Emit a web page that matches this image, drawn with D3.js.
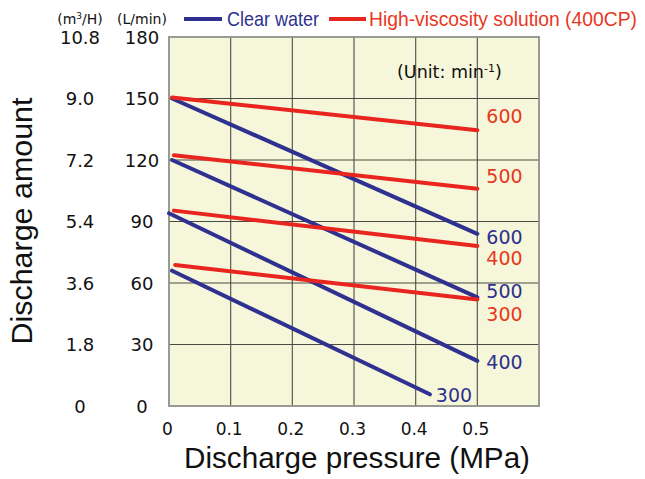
<!DOCTYPE html>
<html>
<head>
<meta charset="utf-8">
<script src="https://cdn.jsdelivr.net/npm/d3@7"></script>
<style>
  html, body { margin: 0; padding: 0; background: #ffffff; }
  svg { display: block; }
</style>
</head>
<body>
<svg id="chart" width="645" height="479"></svg>
<script>
// ---- data ----
const pressureTicks = [0, 0.1, 0.2, 0.3, 0.4, 0.5];
const pressureTickLabels = ["0", "0.1", "0.2", "0.3", "0.4", "0.5"];
const flowTicksLmin = [0, 30, 60, 90, 120, 150, 180];
const flowTickLabelsLmin = ["0", "30", "60", "90", "120", "150", "180"];
const flowTickLabelsM3h = ["0", "1.8", "3.6", "5.4", "7.2", "9.0", "10.8"];

// Clear water (blue) lines: rotation speed, start/end pressure & discharge
const waterSpeeds = ["600", "500", "400", "300"];
const waterStartP = [0.005, 0.005, 0.0, 0.005];
const waterStartQ = [150, 120, 94, 66];
const waterEndP   = [0.5, 0.5, 0.5, 0.423];
const waterEndQ   = [84, 53, 22, 5.7];

// High-viscosity solution (red) lines
const viscSpeeds = ["600", "500", "400", "300"];
const viscStartP = [0.005, 0.008, 0.008, 0.01];
const viscStartQ = [150.5, 122.3, 95.3, 68.8];
const viscEndP   = [0.5, 0.5, 0.5, 0.5];
const viscEndQ   = [134.5, 106, 78, 52];

// ---- layout / style ----
const BLUE = "#2e318f";
const RED = "#e8261f";
const RED_TEXT = "#e8381e";
const BG = "#f6f7da";
const svg = d3.select("#chart");

const x = d3.scaleLinear().domain([0, 0.6]).range([169, 539]);
const y = d3.scaleLinear().domain([0, 180]).range([406, 37]);

// plot background
svg.append("rect")
  .attr("x", x(0)).attr("y", y(180))
  .attr("width", x(0.6) - x(0)).attr("height", y(0) - y(180))
  .attr("fill", BG);

// grid
const grid = svg.append("g");
grid.selectAll("line.v").data(pressureTicks.slice(1)).join("line")
  .attr("x1", d => x(d)).attr("x2", d => x(d))
  .attr("y1", y(180)).attr("y2", y(0))
  .attr("stroke", "#5a5a55").attr("stroke-width", 1.2);
grid.selectAll("line.h").data(flowTicksLmin.slice(1, -1)).join("line")
  .attr("x1", x(0)).attr("x2", x(0.6))
  .attr("y1", d => y(d)).attr("y2", d => y(d))
  .attr("stroke", "#4a4a45").attr("stroke-width", 1.2);

// border
svg.append("rect")
  .attr("x", x(0)).attr("y", y(180))
  .attr("width", x(0.6) - x(0)).attr("height", y(0) - y(180))
  .attr("fill", "none").attr("stroke", "#8f8f8a").attr("stroke-width", 1.8);

// axes (text only, via d3 axis)
const xAxis = d3.axisBottom(x).tickValues(pressureTicks)
  .tickFormat((d, i) => pressureTickLabels[i]).tickSize(0).tickPadding(0);
const gx = svg.append("g").attr("transform", `translate(0, ${y(0) + 29})`).call(xAxis);
gx.select(".domain").remove();
gx.selectAll("text").attr("font-family", "DejaVu Sans").attr("font-size", 17)
  .attr("fill", "#111").attr("dy", 0).attr("dx", -2);

const yAxisL = d3.axisLeft(y).tickValues(flowTicksLmin)
  .tickFormat((d, i) => flowTickLabelsLmin[i]).tickSize(0).tickPadding(0);
const gyl = svg.append("g").attr("transform", `translate(142, 0)`).call(yAxisL);
gyl.select(".domain").remove();
gyl.selectAll("text").attr("font-family", "DejaVu Sans").attr("font-size", 18)
  .attr("fill", "#111").attr("text-anchor", "middle").attr("dy", "0.35em");

const yAxisM = d3.axisLeft(y).tickValues(flowTicksLmin)
  .tickFormat((d, i) => flowTickLabelsM3h[i]).tickSize(0).tickPadding(0);
const gym = svg.append("g").attr("transform", `translate(80, 0)`).call(yAxisM);
gym.select(".domain").remove();
gym.selectAll("text").attr("font-family", "DejaVu Sans").attr("font-size", 18)
  .attr("fill", "#111").attr("text-anchor", "middle").attr("dy", "0.35em");

// unit headers
const hdr = svg.append("g").attr("font-family", "DejaVu Sans").attr("font-size", 14)
  .attr("fill", "#111").attr("text-anchor", "middle");
const mh = hdr.append("text").attr("x", 80).attr("y", 24);
mh.append("tspan").text("(m");
mh.append("tspan").text("3").attr("font-size", 9).attr("dy", -5);
mh.append("tspan").text("/H)").attr("dy", 5);
hdr.append("text").attr("x", 142).attr("y", 24).text("(L/min)");

// legend (condensed text via horizontal scaling to fit target width)
function condensedText(x0, y0, str, color, targetW) {
  const t = svg.append("text")
    .attr("font-family", "Liberation Sans").attr("font-size", 21)
    .attr("fill", color).text(str);
  const w = t.node().getComputedTextLength();
  t.attr("transform", `translate(${x0}, ${y0}) scale(${targetW / w}, 1)`);
  return t;
}
svg.append("line").attr("x1", 184).attr("x2", 222).attr("y1", 19).attr("y2", 19)
  .attr("stroke", BLUE).attr("stroke-width", 4);
condensedText(227, 26, "Clear water", BLUE, 92);
svg.append("line").attr("x1", 329).attr("x2", 366).attr("y1", 19).attr("y2", 19)
  .attr("stroke", RED).attr("stroke-width", 4);
condensedText(369, 26, "High-viscosity solution (400CP)", RED_TEXT, 268);

// unit note
const un = svg.append("text").attr("x", 397).attr("y", 78)
  .attr("font-family", "DejaVu Sans").attr("font-size", 17.5).attr("fill", "#111");
un.append("tspan").text("(Unit: min");
un.append("tspan").text("-1").attr("font-size", 11).attr("dy", -6);
un.append("tspan").text(")").attr("dy", 6);

// lines
const line = d3.line().x(d => x(d[0])).y(d => y(d[1]));
const viscData = viscSpeeds.map((s, i) => ({ s, pts: [[viscStartP[i], viscStartQ[i]], [viscEndP[i], viscEndQ[i]]] }));
const waterData = waterSpeeds.map((s, i) => ({ s, pts: [[waterStartP[i], waterStartQ[i]], [waterEndP[i], waterEndQ[i]]] }));

svg.append("g").selectAll("path").data(waterData).join("path")
  .attr("d", d => line(d.pts)).attr("fill", "none")
  .attr("stroke", BLUE).attr("stroke-width", 4).attr("stroke-linecap", "round");
svg.append("g").selectAll("path").data(viscData).join("path")
  .attr("d", d => line(d.pts)).attr("fill", "none")
  .attr("stroke", RED).attr("stroke-width", 4).attr("stroke-linecap", "round");

// end labels (vertical nudges to avoid overlap)
const waterLabelDy = [3, -6, 1, 1];
const viscLabelDy = [-14, -13, 12, 15];
const lab = svg.append("g").attr("font-family", "DejaVu Sans").attr("font-size", 19);
lab.selectAll("text.w").data(waterData).join("text")
  .attr("x", (d, i) => x(waterEndP[i]) + (i === 3 ? 6 : 9))
  .attr("y", (d, i) => y(waterEndQ[i]) + waterLabelDy[i])
  .attr("dy", "0.36em").attr("fill", BLUE).text(d => d.s);
lab.selectAll("text.v").data(viscData).join("text")
  .attr("x", (d, i) => x(viscEndP[i]) + 9)
  .attr("y", (d, i) => y(viscEndQ[i]) + viscLabelDy[i])
  .attr("dy", "0.36em").attr("fill", RED_TEXT).text(d => d.s);

// axis titles
svg.append("text").attr("x", 357).attr("y", 468).attr("text-anchor", "middle")
  .attr("font-family", "Liberation Sans").attr("font-size", 29).attr("fill", "#111")
  .attr("textLength", 346).attr("lengthAdjust", "spacingAndGlyphs")
  .text("Discharge pressure (MPa)");
svg.append("text").attr("transform", "translate(32, 221) rotate(-90)")
  .attr("text-anchor", "middle")
  .attr("font-family", "Liberation Sans").attr("font-size", 29).attr("fill", "#111")
  .attr("textLength", 247).attr("lengthAdjust", "spacingAndGlyphs")
  .text("Discharge amount");
</script>
</body>
</html>
